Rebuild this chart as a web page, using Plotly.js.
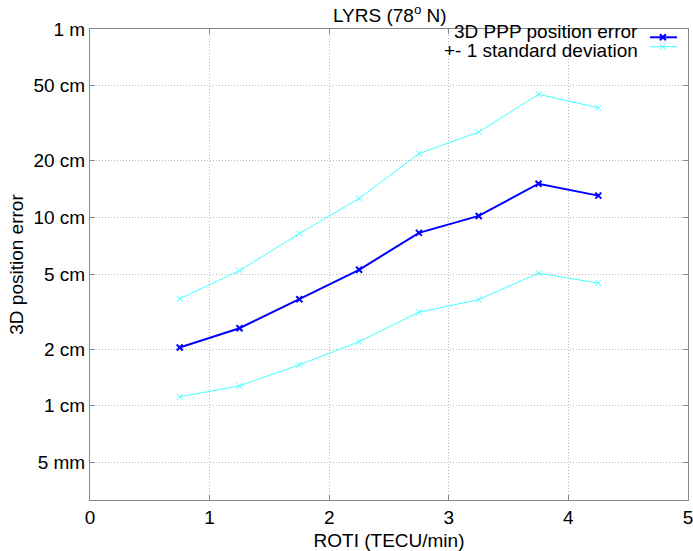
<!DOCTYPE html>
<html>
<head>
<meta charset="utf-8">
<script src="https://cdn.plot.ly/plotly-3.0.1.min.js"></script>
<style>html,body{margin:0;padding:0;background:#fff;}#chart{width:693px;height:551px;}</style>
</head>
<body>
<div id="chart"></div>
<script>
// ROTI bin centres (TECU/min)
const roti = [0.75, 1.25, 1.75, 2.25, 2.75, 3.25, 3.75, 4.25];
// 3D PPP position error (cm)
const meanErr = [2.04, 2.58, 3.68, 5.27, 8.28, 10.18, 15.1, 13.05];
// +1 standard deviation (cm)
const upperErr = [3.7, 5.22, 8.2, 12.6, 21.8, 28.4, 45.0, 38.2];
// -1 standard deviation (cm)
const lowerErr = [1.116, 1.277, 1.65, 2.19, 3.14, 3.66, 5.06, 4.48];
// y tick positions (cm) and labels
const yTickVals = [0.5, 1, 2, 5, 10, 20, 50, 100];
const yTickText = ['5 mm', '1 cm', '2 cm', '5 cm', '10 cm', '20 cm', '50 cm', '1 m'];
const xTickVals = [0, 1, 2, 3, 4, 5];
const xTickText = ['0', '1', '2', '3', '4', '5'];
const legendNames = ['3D PPP position error', '+- 1 standard deviation'];

const blue = '#0000ff';
const cyan = '#44ffff';
const font = 'Liberation Sans, Arial, Helvetica, sans-serif';
const fs = 19;

const traces = [
  {x: roti, y: upperErr, mode: 'lines+markers', name: legendNames[1],
   line: {color: cyan, width: 1},
   marker: {symbol: 'x-thin', size: 6, line: {color: cyan, width: 1}}},
  {x: roti, y: lowerErr, mode: 'lines+markers', name: legendNames[1], showlegend: false,
   line: {color: cyan, width: 1},
   marker: {symbol: 'x-thin', size: 6, line: {color: cyan, width: 1}}},
  {x: roti, y: meanErr, mode: 'lines+markers', name: legendNames[0],
   line: {color: blue, width: 2},
   marker: {symbol: 'x-thin', size: 6, line: {color: blue, width: 2}}}
];

const axisCommon = {
  showline: true, linecolor: '#888', linewidth: 1, mirror: 'ticks',
  ticks: 'inside', ticklen: 5, tickcolor: '#888',
  showgrid: true, gridcolor: '#b8b8b8', griddash: '1px,2px', gridwidth: 1,
  zeroline: false, ticklabeloverflow: 'allow',
  tickfont: {family: font, size: fs, color: '#000'}
};

const lx0 = 0.9365, lx1 = 0.9816, lxm = 0.958;
const ly = [0.9824, 0.9624];
function xMark(yc, color, w) {
  return {type: 'path', xref: 'paper', yref: 'paper', xsizemode: 'pixel', ysizemode: 'pixel',
          xanchor: lxm, yanchor: yc, path: 'M-3,-3 L3,3 M-3,3 L3,-3',
          line: {color: color, width: w}};
}

const layout = {
  width: 693, height: 551,
  margin: {l: 90, r: 5, t: 29, b: 51},
  paper_bgcolor: '#fff', plot_bgcolor: '#fff',
  showlegend: false,
  title: {text: 'LYRS (78<sup>o</sup> N)', x: 0.5625, xanchor: 'center', y: 0.972, yanchor: 'middle',
          font: {family: font, size: fs, color: '#000'}},
  xaxis: Object.assign({}, axisCommon, {
    range: [0, 5], tickvals: xTickVals, ticktext: xTickText,
    title: {text: 'ROTI (TECU/min)', standoff: 6, font: {family: font, size: fs, color: '#000'}}
  }),
  yaxis: Object.assign({}, axisCommon, {
    type: 'log', range: [-0.5, 2], tickvals: yTickVals, ticktext: yTickText,
    title: {text: '3D position error', standoff: 4, font: {family: font, size: fs, color: '#000'}}
  }),
  annotations: [
    {xref: 'paper', yref: 'paper', x: 0.9197, y: 0.9945, xanchor: 'right', yanchor: 'middle',
     text: legendNames[0], showarrow: false, font: {family: font, size: fs, color: '#000'}},
    {xref: 'paper', yref: 'paper', x: 0.9197, y: 0.9554, xanchor: 'right', yanchor: 'middle',
     text: legendNames[1], showarrow: false, font: {family: font, size: fs, color: '#000'}}
  ],
  shapes: [
    {type: 'line', xref: 'paper', yref: 'paper', x0: lx0, x1: lx1, y0: ly[0], y1: ly[0], line: {color: blue, width: 2}},
    xMark(ly[0], blue, 2),
    {type: 'line', xref: 'paper', yref: 'paper', x0: lx0, x1: lx1, y0: ly[1], y1: ly[1], line: {color: cyan, width: 1}},
    xMark(ly[1], cyan, 1)
  ]
};

Plotly.newPlot('chart', traces, layout, {displayModeBar: false, staticPlot: true});
</script>
</body>
</html>
